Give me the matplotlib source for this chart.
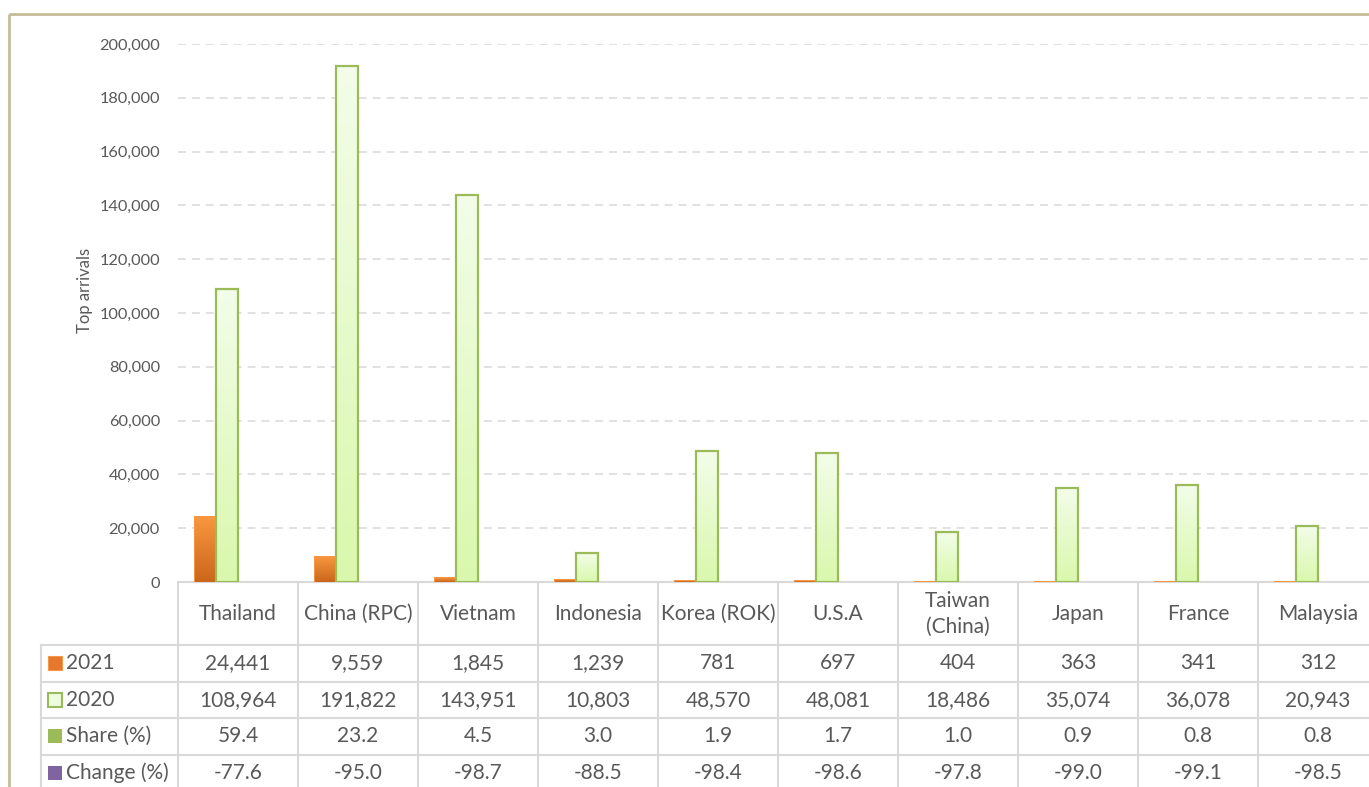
import matplotlib
matplotlib.use("Agg")

import numpy as np
import matplotlib.pyplot as plt
import matplotlib.transforms as mtransforms
from matplotlib.colors import LinearSegmentedColormap
from matplotlib.patches import Rectangle

plt.rcParams["font.family"] = ["Lato", "DejaVu Sans"]

# -------------------------------------------------
# DATA
# -------------------------------------------------
countries = ["Thailand", "China (RPC)", "Vietnam", "Indonesia", "Korea (ROK)",
             "U.S.A", "Taiwan\n(China)", "Japan", "France", "Malaysia"]
arrivals_2021 = [24441, 9559, 1845, 1239, 781, 697, 404, 363, 341, 312]
arrivals_2020 = [108964, 191822, 143951, 10803, 48570, 48081, 18486, 35074, 36078, 20943]
share_pct = [59.4, 23.2, 4.5, 3.0, 1.9, 1.7, 1.0, 0.9, 0.8, 0.8]
change_pct = [-77.6, -95.0, -98.7, -88.5, -98.4, -98.6, -97.8, -99.0, -99.1, -98.5]

series_names = ["2021", "2020", "Share (%)", "Change (%)"]
yticks = np.arange(0, 200001, 20000)

TEXT = "#595959"
GRID = "#D9D9D9"
ORANGE_TOP, ORANGE_BOT = "#F9983F", "#CB661B"
GREEN_TOP, GREEN_BOT = "#F3FDEA", "#D9F8AC"
GREEN_EDGE = "#9BBB59"
SHARE_C = "#9BBB59"
CHANGE_C = "#8064A2"

W, H = 1369, 787
fig = plt.figure(figsize=(W / 100, H / 100), dpi=100)

# pixel overlay for frame + table
ov = fig.add_axes([0, 0, 1, 1], zorder=0)
ov.set_xlim(0, W)
ov.set_ylim(H, 0)
ov.axis("off")

# main plot area
ax = fig.add_axes([178 / W, (H - 582) / H, 1200 / W, 538 / H], zorder=1)
ax.set_facecolor("none")

n = len(countries)
x = np.arange(n)
bw = 0.1833
offsets = np.array([-1.5, -0.5, 0.5, 1.5]) * bw


def gradient_fill(bars, c_top, c_bot):
    cmap = LinearSegmentedColormap.from_list("g", [c_bot, c_top])
    grad = np.linspace(0, 1, 256).reshape(-1, 1)
    for b in bars:
        x0, y0 = b.get_x(), b.get_y()
        w, h = b.get_width(), b.get_height()
        if h <= 0:
            continue
        im = ax.imshow(grad, extent=[x0, x0 + w, y0, y0 + h], origin="lower",
                       cmap=cmap, aspect="auto", zorder=b.get_zorder() - 0.1)
        im.set_clip_path(b)


# soft shadows
for xs, vals in [(x + offsets[0], arrivals_2021), (x + offsets[1], arrivals_2020)]:
    ax.bar(xs + 0.01, vals, bw, bottom=-500, color="#000000", alpha=0.08,
           zorder=1.5, linewidth=0)

b21 = ax.bar(x + offsets[0], arrivals_2021, bw, color="none",
             edgecolor="#F79646", linewidth=0.7, zorder=3)
b20 = ax.bar(x + offsets[1], arrivals_2020, bw, color="none",
             edgecolor=GREEN_EDGE, linewidth=1.6, zorder=3)
ax.bar(x + offsets[2], share_pct, bw, color=SHARE_C, zorder=3)
ax.bar(x + offsets[3], change_pct, bw, color=CHANGE_C, zorder=3)
gradient_fill(b21, ORANGE_TOP, ORANGE_BOT)
gradient_fill(b20, GREEN_TOP, GREEN_BOT)

ax.set_xlim(-0.5, n - 0.5)
ax.set_ylim(0, 200000)
ax.set_yticks(yticks)
ax.set_yticklabels([f"{v:,}" for v in yticks], color=TEXT, fontsize=11.8)
ax.tick_params(axis="y", length=0, pad=13)
ax.set_xticks([])
for s in ax.spines.values():
    s.set_visible(False)
ax.grid(axis="y", color=GRID, linewidth=1.1, linestyle=(0, (5.2, 3.9)))
ax.set_axisbelow(True)

ov.text(85, 290, "Top arrivals", rotation=90, ha="center", va="center",
        color=TEXT, fontsize=12)

# -------------------------------------------------
# DATA TABLE
# -------------------------------------------------
mix = mtransforms.blended_transform_factory(ax.transData, ov.transData)
row_lines = [582, 645, 682, 718, 755]
row_centers = [663, 700, 736, 773]
lw_t = 1.5

ov.plot([178, W], [582, 582], color=GRID, lw=lw_t, zorder=2)
for yl in row_lines[1:]:
    ov.plot([41, W], [yl, yl], color=GRID, lw=lw_t, zorder=2)
ov.plot([41, 41], [645, H], color=GRID, lw=lw_t, zorder=2)
for i in range(n + 1):
    ov.plot([i - 0.5, i - 0.5], [582, H], color=GRID, lw=lw_t, zorder=2,
            transform=mix)

for i, c in enumerate(countries):
    ov.text(i, 614, c, ha="center", va="center", color=TEXT, fontsize=15,
            transform=mix, linespacing=1.35)

rows = [
    [f"{v:,}" for v in arrivals_2021],
    [f"{v:,}" for v in arrivals_2020],
    [f"{v:.1f}" for v in share_pct],
    [f"{v:.1f}" for v in change_pct],
]
for r, (vals, yc) in enumerate(zip(rows, row_centers)):
    for i, t in enumerate(vals):
        ov.text(i, yc, t, ha="center", va="center", color=TEXT, fontsize=15,
                transform=mix)
    ov.text(66, yc, series_names[r], ha="left", va="center", color=TEXT,
            fontsize=15)

# legend keys
ov.add_patch(Rectangle((48, 656), 14, 14, facecolor="#E5782A", edgecolor="#F79646", lw=0.8))
ov.add_patch(Rectangle((48, 693), 14, 14, facecolor="#EEFBDF", edgecolor=GREEN_EDGE, lw=1.5))
ov.add_patch(Rectangle((48, 729), 14, 14, facecolor=SHARE_C, edgecolor="none"))
ov.add_patch(Rectangle((48, 766), 14, 14, facecolor=CHANGE_C, edgecolor="none"))

# outer frame
ov.plot([9, W], [13.5, 13.5], color="#C4BD97", lw=2, solid_capstyle="butt")
ov.plot([9, 9], [13.5, H], color="#C4BD97", lw=2, solid_capstyle="butt")

fig.savefig("out.png", dpi=100)
